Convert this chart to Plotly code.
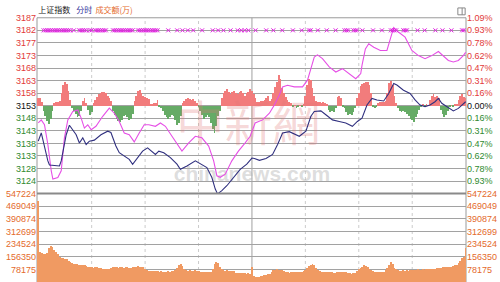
import numpy as np
import plotly.graph_objects as go

# ---------------- data ----------------
PREV_CLOSE = 3152.95          # previous close (base line, 0.00%)
PRICE_STEP = 4.903            # price grid step (~0.156%)
VOL_STEP = 78175              # volume grid step

price_tick_steps = list(range(-6, 8))
price_tick_labels = ['3124', '3128', '3133', '3138', '3143', '3148', '3153',
                     '3158', '3163', '3168', '3173', '3177', '3182', '3187']
pct_tick_labels = ['0.93%', '0.78%', '0.62%', '0.47%', '0.31%', '0.16%', '0.00%',
                   '0.16%', '0.31%', '0.47%', '0.62%', '0.78%', '0.93%', '1.09%']
vol_tick_labels = ['78175', '156350', '234524', '312699', '390874', '469049', '547224']
time_grid = [30, 60, 90, 120, 150, 180, 210]
title_parts = ['上证指数', '分时', '成交额(万)']

# 分时 line (navy): minute from open, index value
navy_t = [0, 1.7, 5.4, 6.3, 11.9, 12.9, 15.7, 17.5, 21.3, 23.1, 25, 26.9, 28.7, 31.5, 35.2,
          39, 40.8, 43.6, 45.5, 48.3, 51.1, 53, 55.8, 58.6, 61.4, 63, 65.8, 67.7, 70.5, 74.2,
          77.9, 79.8, 83.5, 88.2, 91.9, 94.7, 97.5, 99.4, 100.7, 103.1, 105.9, 109.7, 113.4,
          117.1, 120, 121.4, 124.2, 127.9, 131.6, 134.4, 137.2, 141, 144.7, 146.6, 150.3,
          153.1, 155, 158.7, 161.5, 165.2, 169, 172.7, 176.4, 179.2, 181.8, 184.6, 187.4,
          190.2, 194, 196.8, 199.6, 201.4, 205.1, 208.8, 211.6, 214.4, 217.2, 220, 222.8,
          224.7, 226.6, 229.4, 233.1, 235.9, 238.7, 240]
navy_v = [3139.1, 3142.3, 3131.4, 3129.8, 3129.4, 3131.4, 3141.6, 3145.3, 3141.6, 3138.4,
          3140.4, 3137.8, 3139.1, 3139.5, 3141.6, 3143.0, 3142.5, 3137.2, 3134.6, 3133.3,
          3132.0, 3130.1, 3132.7, 3135.2, 3136.5, 3135.6, 3133.9, 3135.2, 3134.6, 3132.7,
          3130.1, 3128.1, 3129.4, 3131.4, 3130.1, 3128.8, 3124.9, 3120.4, 3118.5, 3119.8,
          3121.7, 3124.9, 3128.1, 3130.1, 3132.5, 3132.3, 3131.6, 3132.3, 3133.9, 3137.8,
          3142.3, 3142.8, 3141.6, 3141.0, 3143.0, 3148.8, 3150.7, 3150.9, 3149.4, 3147.4,
          3146.8, 3146.2, 3144.9, 3146.8, 3148.1, 3153.2, 3155.8, 3155.2, 3154.8, 3157.7,
          3161.6, 3161.0, 3159.0, 3157.7, 3155.2, 3153.2, 3152.6, 3153.2, 3154.5, 3155.8,
          3153.9, 3152.6, 3150.9, 3151.9, 3153.9, 3154.5]

# second (magenta) line
mag_t = [0, 1.7, 3.5, 5.4, 7.3, 8.2, 11, 12.9, 14.7, 16.6, 19.4, 22.2, 24.1, 25.9, 27.8,
         29.7, 32.4, 36.2, 39.9, 42.7, 45.5, 48.3, 51.1, 53.9, 56.7, 59.5, 62.1, 65.8, 68.6,
         71.4, 75.1, 80.7, 84.5, 88.2, 91.9, 95.7, 98.5, 100.3, 102.2, 105, 108.7, 112.4,
         116.2, 119, 121.8, 126, 129.8, 132.6, 135.4, 137.2, 140, 143.8, 148.4, 151.2, 153.1,
         155, 156.8, 159.6, 163.4, 167.1, 170.8, 174.5, 178.3, 181.1, 181.8, 183.7, 185.6,
         188.4, 192.1, 195.8, 197.7, 199.6, 202.4, 206, 209.8, 213.5, 217.2, 221, 224.7,
         227.5, 230.3, 233.1, 235.9, 238.7, 240]
mag_v = [3146.2, 3147.4, 3145.5, 3137.8, 3127.5, 3124.3, 3124.9, 3127.5, 3140.4, 3147.4,
         3150.7, 3151.3, 3148.1, 3144.2, 3145.5, 3143.6, 3144.9, 3148.8, 3152.0, 3150.0,
         3146.8, 3142.3, 3141.6, 3138.8, 3142.3, 3145.5, 3145.5, 3144.9, 3146.2, 3144.9,
         3141.0, 3135.2, 3138.4, 3141.0, 3140.4, 3137.2, 3131.4, 3125.6, 3125.0, 3126.2,
         3131.4, 3135.2, 3138.4, 3141.0, 3146.2, 3147.4, 3150.0, 3153.2, 3157.1, 3160.3,
         3160.9, 3160.3, 3160.3, 3162.9, 3167.4, 3171.9, 3172.8, 3171.3, 3168.1, 3166.1,
         3167.4, 3165.5, 3163.5, 3165.5, 3168.7, 3175.1, 3177.1, 3175.8, 3174.5, 3174.5,
         3179.0, 3183.5, 3181.6, 3179.7, 3174.5, 3172.5, 3171.3, 3172.5, 3174.1, 3172.3,
         3170.6, 3170.0, 3170.6, 3172.5, 3173.8]

# red/green lead bars (points above/below previous close), one per minute 0..240
lead = [3, 3.1, 1.5, -2, -4, -6, -7, -5, -2, 1, 1.5, 1.5, 2, 5, 8, 9.2, 8.5, 6, 2.5, -1,
        -2, -3, -4.2, -4, -2, 2, 3, 1, -1.5, -3.5, -2.5, 1, 2.5, 3.5, 4.5, 5, 5.4, 5.4, 5, 4,
        3, 2, -2, -3.5, -5, -6, -6.1, -5.5, -4, -3.5, -4.5, -5.5, -5, -3, 2, 4, 6, 6.1, 5, 4,
        3.5, 3, 2.7, 0.5, 0.5, 1, 1, 2.2, -0.5, -1, -2, -3.5, -4.5, -5, -4.5, -3.5, -4, -5.5,
        -7.3, -6.5, -4, 1, 2, 2.7, 3, 2.7, 2.5, 2.7, 2, 1, -0.5, -2, -3.5, -5, -4.5, -3.5,
        -4.5, -6.5, -9, -10.7, -8, -4, -2, 3, 5, 6, 6.5, 5.5, 4.5, 5.5, 6, 5, 4.5, 5.5, 6, 5,
        4, 5, 5.5, 6.5, 6, 4.5, 3, 1.5, 1.5, 2, 2, 2.5, 3, 3.8, 2, 2.8, 5, 7.3, 9.5, 11.9,
        10.5, 7, 5, 3.5, 2.2, 1.5, 1, -0.5, 0.3, -1, -0.3, 0.3, -0.5, 0.5, 4, 8, 10.4, 10, 7,
        4, 2, 1.5, 1.5, 1, 1.5, 1, 0.5, -1.5, -2.3, -2, -2.3, -1, 3.5, 4, 3, -0.5, -1, -2.5,
        -3.5, -3, -3.5, -2.5, -1, 3, 5, 7.9, 8.5, 9, 9.2, 9.2, 8, 5, -0.5, -0.8, -0.5, 1, 1.5,
        1.5, 1.5, 2, 5, 9, 9.8, 8, 4, 1, -1, -2, -2.3, -2, -2.5, -3, -4, -5, -5.5, -6.1, -4.5,
        -3, -1.5, -0.5, 0.5, -0.3, 0.5, 0.3, 2.5, 4, 4.5, 3.5, 4, 3, -1.5, -3, -4.2, -3.5, -2,
        -0.5, 0.3, -0.3, 0.5, 0.5, 2.5, 4, 4.5, 3.5, 3]

# turnover (万) per minute 0..240
volume = [505000, 190000, 180000, 175000, 178000, 185000, 215000, 228000, 222000, 200000, 190000,
          176000, 160000, 148000, 150000, 146000, 145000, 135000, 125000, 122000, 115000,
          114000, 112000, 110000, 108000, 106000, 105000, 103000, 98000, 95000, 94000,
          92000, 96000, 94000, 90000, 88000, 85000, 84000, 86000, 83000, 84000,
          88000, 94000, 96000, 94000, 92000, 95000, 93000, 90000, 96000, 94000,
          92000, 88000, 95000, 98000, 97000, 99000, 98000, 96000, 95000, 80000,
          74000, 72000, 73000, 70000, 71000, 68000, 70000, 66000, 68000, 67000,
          64000, 66000, 68000, 67000, 70000, 72000, 75000, 90000, 108000, 111000,
          100000, 85000, 76000, 72000, 74000, 72000, 70000, 74000, 72000, 70000,
          66000, 63000, 64000, 62000, 65000, 63000, 66000, 80000, 115000, 128000,
          120000, 95000, 80000, 74000, 72000, 75000, 73000, 70000, 72000, 68000,
          60000, 58000, 57000, 60000, 56000, 58000, 55000, 57000, 54000, 98000,
          40000, 33000, 34000, 36000, 38000, 40000, 44000, 48000, 52000, 55000,
          65000, 75000, 78000, 80000, 78000, 76000, 74000, 70000, 65000, 62000,
          60000, 63000, 65000, 62000, 64000, 66000, 63000, 64000, 68000, 75000,
          90000, 100000, 108000, 115000, 105000, 92000, 78000, 70000, 66000, 64000,
          66000, 64000, 62000, 65000, 64000, 60000, 58000, 62000, 64000, 63000,
          66000, 64000, 62000, 60000, 58000, 55000, 56000, 60000, 70000, 80000,
          90000, 98000, 105000, 102000, 95000, 85000, 75000, 68000, 65000, 64000,
          63000, 62000, 66000, 64000, 75000, 90000, 110000, 125000, 112000, 92000,
          80000, 74000, 72000, 70000, 74000, 72000, 75000, 73000, 76000, 78000,
          76000, 78000, 80000, 77000, 79000, 80000, 78000, 82000, 80000, 84000,
          82000, 85000, 86000, 88000, 90000, 92000, 94000, 93000, 96000, 94000,
          98000, 96000, 100000, 105000, 110000, 120000, 135000, 148000, 160000, 215000]

# minutes carrying the small magenta "x" markers on the top row
marker_t = [3, 4, 5, 6, 7, 8, 9, 10, 11, 12, 13, 14, 15, 16, 17, 18, 20, 23, 24, 25, 26, 27,
            29, 30, 32, 33, 34, 35, 36, 37, 38, 42, 43, 44, 45, 46, 47, 48, 49, 50, 51, 52, 53,
            56, 57, 58, 59, 60, 61, 62, 63, 64, 65, 66, 67, 73, 78, 81, 84, 87, 92, 98, 101,
            104, 108, 112, 114, 116, 118, 122, 128, 132, 137, 143, 148, 152, 153, 157, 162,
            167, 172, 173, 174, 177, 178, 179, 182, 188, 193, 198, 199, 200, 201, 205, 206,
            207, 213, 217, 223, 227, 232, 238, 239]

# ---------------- styling ----------------
RED = '#e23a3a'
GREEN = '#2f8a2f'
ORANGE = '#e46a2c'
NAVY = '#30307f'
MAGENTA = '#e64fe6'
GRID = '#a2a2a2'
FONT = 'Liberation Sans, Arial, sans-serif'
CJK = 'Noto Sans CJK SC'

H = 282.0
TOP_PX, VOL_PX = 13.0, 90.0
Y_TOP = (H - TOP_PX) / H        # top of the price panel (paper)
Y_SEP = VOL_PX / H              # price / volume separator (paper)

minutes = np.arange(len(lead))
lead_arr = np.array(lead, dtype=float)
price_vals = [PREV_CLOSE + k * PRICE_STEP for k in price_tick_steps]
TOP = PREV_CLOSE + 7 * PRICE_STEP
BOTTOM = PREV_CLOSE - 7 * PRICE_STEP


def col(k):
    return RED if k > 0 else ('#111111' if k == 0 else GREEN)


left_text = [f"<span style='color:{col(k)}'>{s}</span>" for k, s in zip(price_tick_steps, price_tick_labels)]
right_text = [f"<span style='color:{col(k)}'>{s}</span>" for k, s in zip(price_tick_steps, pct_tick_labels)]
vol_vals = [VOL_STEP * (i + 1) for i in range(len(vol_tick_labels))]

fig = go.Figure()

# watermark (drawn first, beneath everything)
fig.add_trace(go.Scatter(x=[118], y=[PREV_CLOSE - 1.85 * PRICE_STEP], mode='text', text=['中新網'],
                         textfont=dict(family='Noto Sans CJK TC', size=48, color='rgba(226,120,120,0.30)'),
                         textposition='middle center', xaxis='x', yaxis='y', hoverinfo='skip'))
fig.add_trace(go.Scatter(x=[120], y=[PREV_CLOSE - 5.6 * PRICE_STEP], mode='text', text=['chinanews.com'],
                         textfont=dict(family=FONT, size=21, weight='bold', color='rgba(180,180,180,0.45)'),
                         textposition='middle center', xaxis='x', yaxis='y', hoverinfo='skip'))

# volume bars
fig.add_trace(go.Bar(x=minutes, y=volume, width=0.55, marker=dict(color='#f09a62', line=dict(width=0)),
                     xaxis='x', yaxis='y2', hoverinfo='skip'))
# lead bars around the previous close
fig.add_trace(go.Bar(x=minutes, y=lead_arr, base=PREV_CLOSE, width=0.45,
                     marker=dict(color=[('#f27c7c' if v > 0 else '#66ab66') for v in lead_arr],
                                 line=dict(width=0)),
                     xaxis='x', yaxis='y', hoverinfo='skip'))
# lines
fig.add_trace(go.Scatter(x=mag_t, y=mag_v, mode='lines', line=dict(color=MAGENTA, width=1.1),
                         xaxis='x', yaxis='y', hoverinfo='skip'))
fig.add_trace(go.Scatter(x=navy_t, y=navy_v, mode='lines', line=dict(color=NAVY, width=1.1),
                         xaxis='x', yaxis='y', hoverinfo='skip'))
# marker row
fig.add_trace(go.Scatter(x=marker_t, y=[PREV_CLOSE + 6 * PRICE_STEP] * len(marker_t), mode='markers',
                         marker=dict(symbol='x-thin', size=4, line=dict(color='#e020e0', width=1)),
                         xaxis='x', yaxis='y', hoverinfo='skip'))
# title row (own strip above the price panel)
fig.add_trace(go.Scatter(x=[0.0, 21.3, 32.1], y=[0.5] * 3, mode='text', text=title_parts,
                         textposition='middle right', cliponaxis=False,
                         textfont=dict(family=CJK, size=8, color=['#222222', '#333399', ORANGE]),
                         xaxis='x', yaxis='y5', hoverinfo='skip'))
# carriers for the right-hand axes
fig.add_trace(go.Scatter(x=[0], y=[PREV_CLOSE], mode='markers', opacity=0, xaxis='x', yaxis='y3',
                         hoverinfo='skip'))
fig.add_trace(go.Scatter(x=[0], y=[0], mode='markers', opacity=0, xaxis='x', yaxis='y4',
                         hoverinfo='skip'))

prange = [BOTTOM, TOP]
vrange = [0, 7 * VOL_STEP]
tickfont = dict(family=FONT, size=9)

shapes = []
for t in time_grid:
    shapes.append(dict(type='line', xref='x', yref='paper', x0=t, x1=t, y0=0, y1=Y_TOP,
                       line=dict(color='#a0a0a0' if t == 120 else '#cccccc', width=1,
                                 dash='solid' if t == 120 else 'dot'), layer='below'))
# separator between panels
shapes.append(dict(type='line', xref='paper', yref='paper', x0=0, x1=1, y0=Y_SEP, y1=Y_SEP,
                   line=dict(color='#8a8a8a', width=2)))
# frame (beneath the bars so the first bar stays visible)
shapes.append(dict(type='rect', xref='paper', yref='paper', x0=0, x1=1, y0=0, y1=Y_TOP,
                   line=dict(color='#9a9a9a', width=1), layer='below'))
# tiny icon top-right
shapes.append(dict(type='rect', xref='paper', yref='paper', x0=0.981, x1=0.998,
                   y0=(H - 10) / H, y1=(H - 3) / H, line=dict(color='#888888', width=1), fillcolor='white'))
shapes.append(dict(type='line', xref='paper', yref='paper', x0=0.991, x1=0.991,
                   y0=(H - 10) / H, y1=(H - 3) / H, line=dict(color='#888888', width=1)))

fig.update_layout(
    width=500, height=282,
    margin=dict(l=37, r=34, t=0, b=0, pad=0),
    paper_bgcolor='white', plot_bgcolor='white',
    showlegend=False, barmode='overlay', bargap=0,
    xaxis=dict(range=[-0.7, 240.2], showgrid=False, showticklabels=False, zeroline=False,
               showline=False, ticks='', fixedrange=True),
    yaxis=dict(domain=[Y_SEP, Y_TOP], range=prange, tickvals=price_vals, ticktext=left_text,
               showgrid=True, gridcolor=GRID, gridwidth=1, zeroline=False, ticks='',
               tickfont=tickfont, showline=False),
    yaxis3=dict(domain=[Y_SEP, Y_TOP], range=prange, overlaying='y', side='right', tickvals=price_vals,
                ticktext=right_text, showgrid=False, zeroline=False, ticks='', tickfont=tickfont,
                anchor='x'),
    yaxis2=dict(domain=[0, Y_SEP], range=vrange, tickvals=vol_vals, ticktext=vol_tick_labels,
                showgrid=True, gridcolor=GRID, gridwidth=1, zeroline=False, ticks='',
                tickfont=dict(family=FONT, size=9, color=ORANGE), anchor='x'),
    yaxis4=dict(domain=[0, Y_SEP], range=vrange, overlaying='y2', side='right', tickvals=vol_vals,
                ticktext=vol_tick_labels, showgrid=False, zeroline=False, ticks='',
                tickfont=dict(family=FONT, size=9, color=ORANGE), anchor='x'),
    yaxis5=dict(domain=[Y_TOP, 1], range=[0, 1], visible=False, fixedrange=True, anchor='x'),
    shapes=shapes,
)

fig.write_html('out.html')
